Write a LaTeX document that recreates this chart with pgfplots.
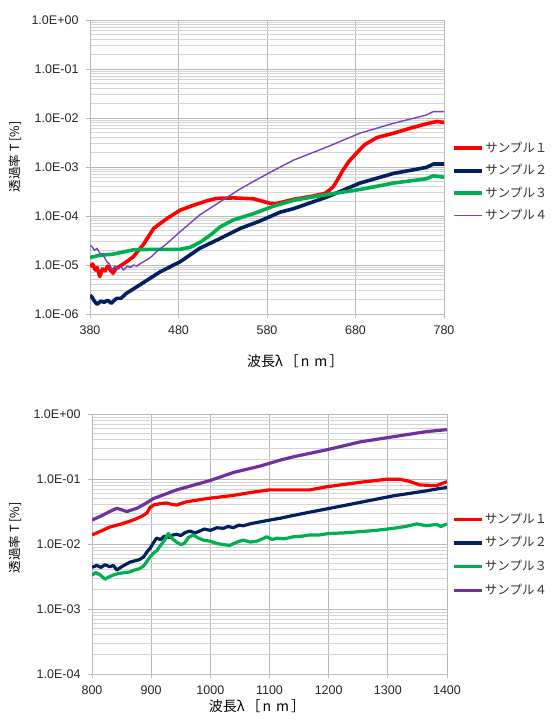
\documentclass[border=0pt]{standalone}
\usepackage{fontspec}
\setmainfont{Liberation Sans}
\newfontfamily\jp{Noto Sans CJK JP}
\usepackage{pgfplots}
\pgfplotsset{compat=1.18}
\usepackage{pgfplotstable}

\definecolor{s1}{RGB}{255,0,0}
\definecolor{s2}{RGB}{0,32,96}
\definecolor{s3}{RGB}{0,176,80}
\definecolor{s4}{RGB}{112,48,160}
\definecolor{s4t}{RGB}{120,66,185}
\definecolor{majgrid}{RGB}{185,185,185}
\definecolor{mingrid}{RGB}{212,212,212}

% ---- visible range 380-780 nm ----
\pgfplotstableread{
x y
380 9.3e-6
383 1.05e-5
386 7.9e-6
388 8.9e-6
391 5.8e-6
394 8.3e-6
397 7.6e-6
400 9.5e-6
403 7.9e-6
406 6.8e-6
409 8.3e-6
414 9.5e-6
420 1.12e-5
429 1.48e-5
440 2.57e-5
452 5.6e-5
467 8.9e-5
482 1.32e-4
497 1.66e-4
512 2.04e-4
523 2.29e-4
542 2.34e-4
565 2.24e-4
575 2.0e-4
583 1.82e-4
590 1.78e-4
610 2.19e-4
630 2.51e-4
645 2.88e-4
650 3.31e-4
655 3.98e-4
660 5.6e-4
666 8.7e-4
672 1.26e-3
681 1.91e-3
690 2.82e-3
704 3.98e-3
723 4.9e-3
742 6.2e-3
760 7.6e-3
772 8.5e-3
780 8.1e-3
}\visA
\pgfplotstableread{
x y
380 2.4e-6
382 2.24e-6
385 1.82e-6
388 1.58e-6
392 1.82e-6
396 1.74e-6
400 1.9e-6
404 1.66e-6
410 2.09e-6
415 2.09e-6
421 2.63e-6
436 3.9e-6
459 7.2e-6
482 1.17e-5
504 2.19e-5
527 3.47e-5
550 5.6e-5
572 7.9e-5
595 1.2e-4
610 1.41e-4
648 2.45e-4
685 4.7e-4
723 7.4e-4
760 9.8e-4
768 1.15e-3
780 1.15e-3
}\visB
\pgfplotstableread{
x y
380 1.38e-5
382 1.45e-5
391 1.58e-5
406 1.66e-5
429 2.04e-5
452 2.09e-5
482 2.09e-5
493 2.29e-5
504 2.88e-5
516 4.07e-5
527 6.0e-5
542 8.3e-5
565 1.12e-4
587 1.58e-4
610 2.09e-4
648 2.75e-4
685 3.47e-4
723 4.7e-4
760 5.75e-4
768 6.6e-4
780 6.2e-4
}\visC
\pgfplotstableread{
x y
380 2.5e-5
382 2.4e-5
385 2.0e-5
388 2.19e-5
391 1.74e-5
395 1.58e-5
399 1.17e-5
402 1.05e-5
405 7.9e-6
408 9.5e-6
411 8.3e-6
415 9.1e-6
418 7.9e-6
422 9.5e-6
426 8.9e-6
429 1.0e-5
433 9.5e-6
438 1.1e-5
444 1.26e-5
450 1.51e-5
455 1.86e-5
467 2.75e-5
482 4.8e-5
504 1.05e-4
527 1.95e-4
550 3.6e-4
572 6.0e-4
595 1.0e-3
610 1.38e-3
648 2.57e-3
685 4.9e-3
723 7.8e-3
760 1.15e-2
768 1.35e-2
780 1.35e-2
}\visD

% ---- near infrared 800-1400 nm ----
\pgfplotstableread{
x y
800 1.38e-2
815 1.58e-2
830 1.82e-2
850 2.04e-2
870 2.34e-2
885 2.69e-2
893 3.02e-2
898 3.63e-2
904 3.98e-2
915 4.17e-2
926 4.27e-2
935 4.07e-2
943 3.98e-2
960 4.47e-2
994 5.0e-2
1039 5.6e-2
1073 6.3e-2
1100 6.8e-2
1168 6.8e-2
1197 7.6e-2
1253 8.9e-2
1298 9.9e-2
1320 9.9e-2
1335 9.3e-2
1354 8.1e-2
1382 7.9e-2
1400 9.1e-2
}\irA
\pgfplotstableread{
x y
800 4.37e-3
808 4.68e-3
815 4.37e-3
822 4.79e-3
830 4.47e-3
836 4.68e-3
842 3.98e-3
850 4.47e-3
858 4.9e-3
864 5.25e-3
872 5.5e-3
880 5.75e-3
887 6.3e-3
893 7.6e-3
898 8.5e-3
904 1.05e-2
909 1.23e-2
916 1.17e-2
922 1.32e-2
930 1.26e-2
937 1.38e-2
943 1.41e-2
950 1.35e-2
958 1.51e-2
966 1.58e-2
974 1.48e-2
982 1.58e-2
990 1.70e-2
1000 1.62e-2
1011 1.78e-2
1022 1.74e-2
1030 1.86e-2
1039 1.78e-2
1048 1.95e-2
1056 1.91e-2
1067 2.04e-2
1078 2.14e-2
1090 2.24e-2
1101 2.34e-2
1120 2.51e-2
1140 2.75e-2
1168 3.09e-2
1197 3.47e-2
1225 3.89e-2
1253 4.37e-2
1281 4.9e-2
1309 5.5e-2
1338 6.03e-2
1366 6.6e-2
1385 7.08e-2
1400 7.41e-2
}\irB
\pgfplotstableread{
x y
800 3.31e-3
806 3.63e-3
813 3.39e-3
822 2.88e-3
830 3.16e-3
838 3.39e-3
847 3.55e-3
856 3.63e-3
864 3.72e-3
872 3.98e-3
880 4.17e-3
887 4.57e-3
892 5.25e-3
898 6.3e-3
904 7.24e-3
910 7.94e-3
915 9.33e-3
922 1.12e-2
929 1.45e-2
936 1.2e-2
943 1.07e-2
950 9.77e-3
956 1.02e-2
963 1.26e-2
971 1.38e-2
980 1.23e-2
988 1.15e-2
1000 1.1e-2
1011 1.02e-2
1022 9.77e-3
1033 9.55e-3
1045 1.07e-2
1056 1.15e-2
1067 1.07e-2
1078 1.1e-2
1088 1.2e-2
1095 1.29e-2
1105 1.17e-2
1112 1.23e-2
1125 1.2e-2
1140 1.29e-2
1155 1.32e-2
1168 1.38e-2
1185 1.38e-2
1200 1.45e-2
1225 1.48e-2
1253 1.55e-2
1280 1.62e-2
1309 1.74e-2
1330 1.86e-2
1349 2.04e-2
1365 1.91e-2
1382 2.0e-2
1390 1.86e-2
1400 2.04e-2
}\irC
\pgfplotstableread{
x y
800 2.34e-2
815 2.69e-2
830 3.16e-2
842 3.55e-2
859 3.16e-2
876 3.55e-2
890 4.17e-2
904 5.0e-2
943 6.8e-2
1000 9.5e-2
1039 1.26e-1
1067 1.45e-1
1084 1.58e-1
1118 1.95e-1
1140 2.19e-1
1197 2.82e-1
1253 3.72e-1
1309 4.47e-1
1366 5.37e-1
1400 5.75e-1
}\irD

\begin{document}
\begin{tikzpicture}
\useasboundingbox (0,0) rectangle (554pt,722pt);

\begin{axis}[
  scale only axis,
  ymode=log,
  at={(90pt,408pt)}, anchor=south west,
  width=354pt, height=294pt,
  xmin=380, xmax=780, ymin=1e-6, ymax=1,
  axis line style={draw=majgrid},
  xmajorgrids, yminorgrids, ymajorgrids,
  major grid style={draw=majgrid, line width=0.8pt},
  minor grid style={draw=mingrid, line width=0.8pt},
  tick align=outside,
  major tick length=4pt,
  minor tick length=0pt,
  tick style={draw=majgrid, line width=0.8pt},
  xtick pos=bottom, ytick pos=left,
  ticklabel style={font=\fontsize{12.5}{13}\selectfont, text=black!85},
  /pgf/number format/assume math mode=true,
  /pgf/number format/1000 sep={},
  yticklabel style={xshift=-4pt},
  xticklabel style={yshift=-4pt},
  xtick={380,480,580,680,780},
  ytick={1e-6,1e-5,1e-4,1e-3,1e-2,1e-1,1},
  yticklabels={1.0E-06,1.0E-05,1.0E-04,1.0E-03,1.0E-02,1.0E-01,1.0E+00},
  minor ytick={2e-6,3e-6,4e-6,5e-6,6e-6,7e-6,8e-6,9e-6,
    2e-5,3e-5,4e-5,5e-5,6e-5,7e-5,8e-5,9e-5,
    2e-4,3e-4,4e-4,5e-4,6e-4,7e-4,8e-4,9e-4,
    2e-3,3e-3,4e-3,5e-3,6e-3,7e-3,8e-3,9e-3,
    2e-2,3e-2,4e-2,5e-2,6e-2,7e-2,8e-2,9e-2,
    0.2,0.3,0.4,0.5,0.6,0.7,0.8,0.9},
  xlabel={波長λ\hspace{2pt}［\hspace{2pt}n\hspace{5pt}m\hspace{2pt}］},
  xlabel style={font=\jp\fontsize{14}{15}\selectfont, at={(0.58,-0.16)}, anchor=center},
  ylabel={透過率 T [\%]},
  ylabel style={font=\jp\fontsize{12.5}{13}\selectfont, at={(-0.212,0.534)}, anchor=center},
  legend cell align=left,
  legend style={draw=none, fill=none, inner sep=0pt, row sep=10.5pt,
    at={(1.0226,0.585)}, anchor=north west,
    nodes={inner xsep=1.5pt, inner ysep=0pt, text height=10pt, text depth=2pt,
      font=\jp\fontsize{12.5}{13}\selectfont, text=black!80}},
  legend image code/.code={\draw[#1] (0pt,0pt) -- (28pt,0pt);},
]
\addplot[s1, line width=3.6pt, line join=round] table {\visA};
\addlegendentry{サンプル１}
\addplot[s2, line width=3.6pt, line join=round] table {\visB};
\addlegendentry{サンプル２}
\addplot[s3, line width=3.6pt, line join=round] table {\visC};
\addlegendentry{サンプル３}
\addplot[s4t, line width=1.4pt, line join=round] table {\visD};
\addlegendentry{サンプル４}
\end{axis}

\begin{axis}[
  scale only axis,
  ymode=log,
  at={(92pt,48pt)}, anchor=south west,
  width=355pt, height=260pt,
  xmin=800, xmax=1400, ymin=1e-4, ymax=1,
  axis line style={draw=majgrid},
  xmajorgrids, yminorgrids, ymajorgrids,
  major grid style={draw=majgrid, line width=0.8pt},
  minor grid style={draw=mingrid, line width=0.8pt},
  tick align=outside,
  major tick length=4pt,
  minor tick length=0pt,
  tick style={draw=majgrid, line width=0.8pt},
  xtick pos=bottom, ytick pos=left,
  ticklabel style={font=\fontsize{12.5}{13}\selectfont, text=black!85},
  /pgf/number format/assume math mode=true,
  /pgf/number format/1000 sep={},
  yticklabel style={xshift=-4pt},
  xticklabel style={yshift=-4pt},
  xtick={800,900,1000,1100,1200,1300,1400},
  ytick={1e-4,1e-3,1e-2,1e-1,1},
  yticklabels={1.0E-04,1.0E-03,1.0E-02,1.0E-01,1.0E+00},
  minor ytick={2e-4,3e-4,4e-4,5e-4,6e-4,7e-4,8e-4,9e-4,
    2e-3,3e-3,4e-3,5e-3,6e-3,7e-3,8e-3,9e-3,
    2e-2,3e-2,4e-2,5e-2,6e-2,7e-2,8e-2,9e-2,
    0.2,0.3,0.4,0.5,0.6,0.7,0.8,0.9},
  xlabel={波長λ\hspace{2pt}［\hspace{2pt}n\hspace{5pt}m\hspace{2pt}］},
  xlabel style={font=\jp\fontsize{14}{15}\selectfont, at={(0.465,-0.123)}, anchor=center},
  ylabel={透過率 T [\%]},
  ylabel style={font=\jp\fontsize{12.5}{13}\selectfont, at={(-0.217,0.523)}, anchor=center},
  legend cell align=left,
  legend style={draw=none, fill=none, inner sep=0pt, row sep=11.7pt,
    at={(1.014,0.619)}, anchor=north west,
    nodes={inner xsep=1.5pt, inner ysep=0pt, text height=10pt, text depth=2pt,
      font=\jp\fontsize{12.5}{13}\selectfont, text=black!80}},
  legend image code/.code={\draw[#1] (0pt,0pt) -- (28pt,0pt);},
]
\addplot[s1, line width=3.2pt, line join=round] table {\irA};
\addlegendentry{サンプル１}
\addplot[s2, line width=3.2pt, line join=round] table {\irB};
\addlegendentry{サンプル２}
\addplot[s3, line width=3.2pt, line join=round] table {\irC};
\addlegendentry{サンプル３}
\addplot[s4, line width=3.2pt, line join=round] table {\irD};
\addlegendentry{サンプル４}
\end{axis}
\end{tikzpicture}
\end{document}
